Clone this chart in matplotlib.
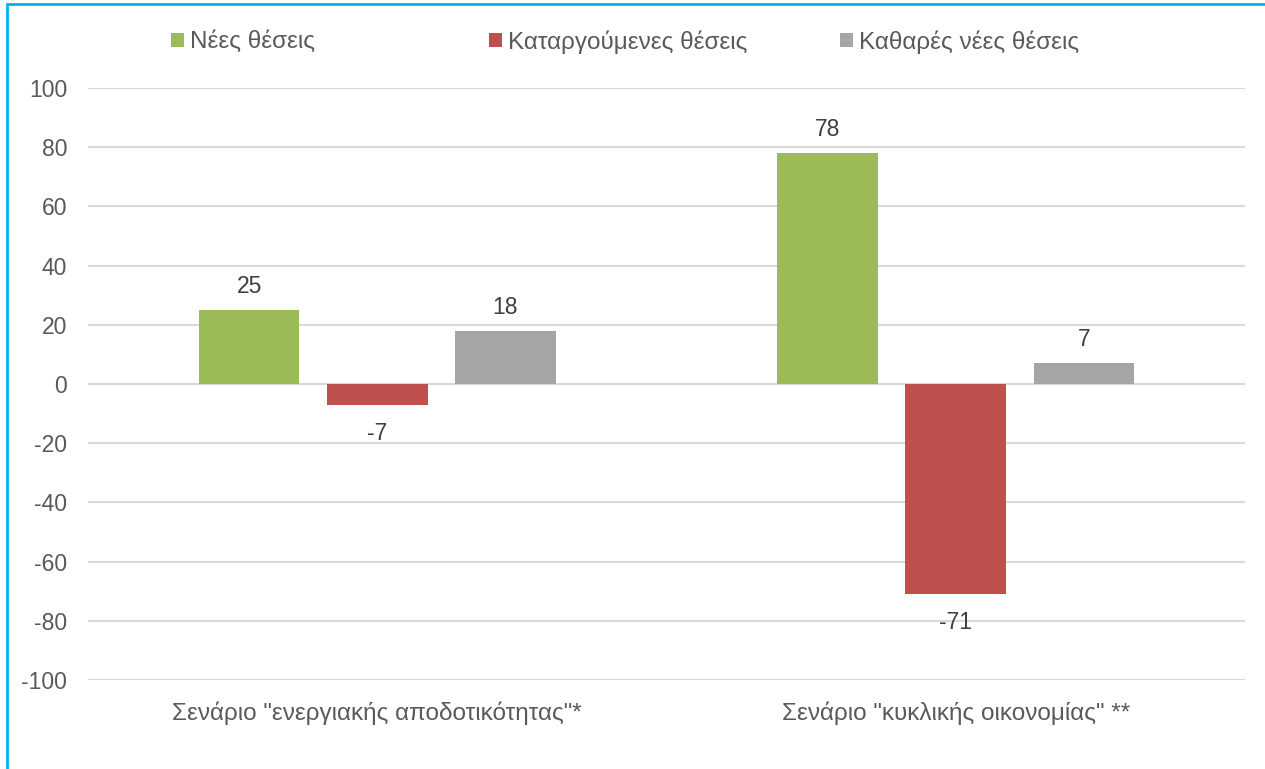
import matplotlib
matplotlib.use("Agg")
import matplotlib.pyplot as plt
from matplotlib.patches import Rectangle
import numpy as np

categories = ['Σενάριο "ενεργιακής αποδοτικότητας"*', 'Σενάριο "κυκλικής οικονομίας" **']
series_names = ["Νέες θέσεις", "Καταργούμενες θέσεις", "Καθαρές νέες θέσεις"]
new_jobs = [25, 78]
lost_jobs = [-7, -71]
net_jobs = [18, 7]
yticks = [100, 80, 60, 40, 20, 0, -20, -40, -60, -80, -100]

colors = ["#9BBB59", "#C0504D", "#A5A5A5"]
plt.rcParams['font.family'] = ['Liberation Sans', 'DejaVu Sans']

W, H = 1265, 769
fig = plt.figure(figsize=(W / 100, H / 100), dpi=100)
ax = fig.add_axes([88 / W, 1 - 680 / H, (1245 - 88) / W, (680 - 88) / H])

x = np.arange(len(categories))
width = 0.174
offset = 0.2215
series = [new_jobs, lost_jobs, net_jobs]
for i, (vals, c, name) in enumerate(zip(series, colors, series_names)):
    bars = ax.bar(x + (i - 1) * offset, vals, width, color=c, label=name, zorder=3)
    for b, v in zip(bars, vals):
        ax.annotate(f"{v}", (b.get_x() + b.get_width() / 2, v),
                    xytext=(0, 17 if v >= 0 else -35), textcoords="offset pixels",
                    ha="center", va="baseline",
                    fontsize=16.5, color="#404040")

ax.set_xlim(-0.5, 1.5)
ax.set_ylim(-100, 100)
ax.set_yticks(yticks)
ax.set_yticklabels([str(t) for t in yticks])
ax.set_xticks(x)
ax.set_xticklabels(categories)
ax.tick_params(axis="y", length=0, pad=15, labelsize=16.5, labelcolor="#595959")
ax.tick_params(axis="x", length=0, pad=15.5, labelsize=17.5, labelcolor="#595959")
ax.grid(axis="y", color="#D9D9D9", linewidth=1.5, zorder=0)
ax.set_axisbelow(True)
for s in ax.spines.values():
    s.set_visible(False)

# legend entries placed like the reference
handles, labels = ax.get_legend_handles_labels()
legend_x = [171 / W, 489 / W, 840 / W]
for h, l, lx in zip(handles, labels, legend_x):
    leg = fig.legend([h], [l], loc="center left", bbox_to_anchor=(lx, 1 - 42 / H),
                     frameon=False, fontsize=17.5, handlelength=0.52, handleheight=0.52,
                     handletextpad=0.25, borderaxespad=0, borderpad=0)
    for t in leg.get_texts():
        t.set_color("#595959")

# light blue frame (top and left edges visible)
fig.add_artist(Rectangle((6.5 / W, -0.1), 1.2, 1 - 4.5 / H + 0.1, transform=fig.transFigure,
                         fill=False, edgecolor="#00B0F0", linewidth=2))

fig.savefig("out.png", dpi=100, facecolor="white")
